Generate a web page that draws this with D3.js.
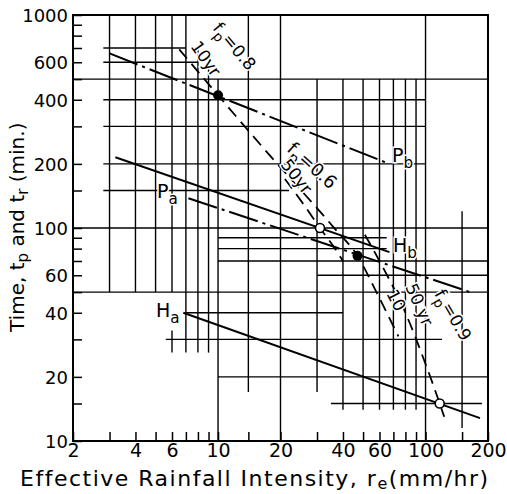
<!DOCTYPE html>
<html><head><meta charset="utf-8">
<script src="https://cdn.jsdelivr.net/npm/d3@7"></script>
<style>
body{margin:0;background:#fff}
svg{display:block}
text{font-family:"DejaVu Sans",sans-serif;fill:#000}
</style>
</head><body>
<svg id="c" width="507" height="494"></svg>
<script>
// ---- data ----
const xTickLabels=[2,4,6,10,20,40,60,100,200];
const yTickLabels=[10,20,40,60,100,200,400,600,1000];
const xMinorTicks=[3,5,7,8,9,14,30,50,70,80,90,150];
const yMinorTicks=[15,30,50,70,80,90,150,300,500,700,800,900];
// vertical grid segments: [x, yFrom, yTo]
const vGrid=[[3,50,1000],[4,50,1000],[5,50,1000],[6,50,1000],[7,50,1000],[8,50,700],[9,50,600],
 [6,26,33],[7,26,50],[8,26,50],[9,26,50],
 [10,10,500],[14,17,1000],[20,10,1000],[30,17,500],[40,14,500],[50,14,500],[60,14,500],
 [70,14,500],[80,14,500],[90,14,500],[100,10,1000],[150,11.5,120]];
// horizontal grid segments: [y, xFrom, xTo]
const hGrid=[[700,2.8,7],[600,2.8,8],[500,2,200],[400,2.8,100],[300,2.8,100],[200,2.8,100],
 [150,2.8,22],[100,2,200],[90,10,65],[80,10,65],[70,10,200],[60,30,200],[50,2,200],
 [40,7,40],[30,5.6,120],[20,10,200],[15,35,187]];
// relationship lines
const Pb=[[3,660],[67,200]];
const Hb=[[3.2,215],[67,77]];
const Pa=[[7.2,138],[164,50]];
const Ha=[[6.8,40],[183,12.8]];
// dashed design-storm lines
const storm10=[[6.5,690],[10,420],[16.5,238],[36.6,99],[47,74],[58,50],[74,31]];
const storm50a=[[21,170],[26,128],[31,100],[36,82],[40,70]];
const storm50b=[[51,93],[60,70],[80,40],[100,23],[117,15],[123,13]];
// solution points
const filledPts=[[10,420],[47,74]];
const openPts=[[31,100],[117,15]];

const svg=d3.select("#c");
const x=d3.scaleLog().domain([2,200]).range([73,488]);
const y=d3.scaleLog().domain([10,1000]).range([441,15]);

const g=svg.append("g");
g.selectAll(".vg").data(vGrid).join("line")
 .attr("x1",d=>x(d[0])).attr("x2",d=>x(d[0])).attr("y1",d=>y(d[1])).attr("y2",d=>y(d[2]))
 .attr("stroke","#000").attr("stroke-width",1.4);
g.selectAll(".hg").data(hGrid).join("line")
 .attr("y1",d=>y(d[0])).attr("y2",d=>y(d[0])).attr("x1",d=>x(d[1])).attr("x2",d=>x(d[2]))
 .attr("stroke","#000").attr("stroke-width",1.4);

const ax=d3.axisBottom(x).tickValues(xTickLabels.concat(xMinorTicks)).tickSize(-9)
  .tickFormat(d=>xTickLabels.includes(d)?d:"");
const axG=svg.append("g").attr("transform",`translate(0,${y(10)})`).call(ax);
const ay=d3.axisLeft(y).tickValues(yTickLabels.concat(yMinorTicks)).tickSize(-9)
  .tickFormat(d=>yTickLabels.includes(d)?d:"");
const ayG=svg.append("g").attr("transform",`translate(${x(2)},0)`).call(ay);
[axG,ayG].forEach(a=>{
  a.select(".domain").remove();
  a.selectAll("line").attr("stroke","#000").attr("stroke-width",1.5);
  a.selectAll("text").style("font-family","DejaVu Sans").attr("fill","#000");
});
axG.selectAll("text").attr("font-size",19).attr("dy","0.55em").attr("y",6);
ayG.selectAll("text").attr("font-size",18).attr("x",-5).attr("dy","0.36em");
svg.append("rect").attr("x",x(2)).attr("y",y(1000)).attr("width",x(200)-x(2)).attr("height",y(10)-y(1000))
 .attr("fill","none").attr("stroke","#000").attr("stroke-width",2);

const line=d3.line().x(d=>x(d[0])).y(d=>y(d[1]));
const dashDot="30,5,3,5";
[Pb,Pa].forEach(s=>svg.append("path").datum(s).attr("d",line).attr("fill","none").attr("stroke","#000").attr("stroke-width",2).attr("stroke-dasharray",dashDot));
[Hb,Ha].forEach(s=>svg.append("path").datum(s).attr("d",line).attr("fill","none").attr("stroke","#000").attr("stroke-width",2));
const curve=d3.line().x(d=>x(d[0])).y(d=>y(d[1])).curve(d3.curveMonotoneX);
[storm10,storm50a,storm50b].forEach(s=>{
 svg.append("path").datum(s).attr("d",curve).attr("fill","none").attr("stroke","#000").attr("stroke-width",1.8).attr("stroke-dasharray","12,7");
});
svg.selectAll(".fp").data(filledPts).join("circle").attr("cx",d=>x(d[0])).attr("cy",d=>y(d[1])).attr("r",5).attr("fill","#000");
svg.selectAll(".op").data(openPts).join("circle").attr("cx",d=>x(d[0])).attr("cy",d=>y(d[1])).attr("r",4.5).attr("fill","#fff").attr("stroke","#000").attr("stroke-width",1.6);

function lab(px,py,main,sub,rest,size,rot,anchor){
  const t=svg.append("text").attr("font-size",size).attr("text-anchor",anchor||"start")
   .attr("transform",`translate(${px},${py}) rotate(${rot||0})`)
   .attr("stroke","#fff").attr("stroke-width",3).attr("paint-order","stroke");
  t.append("tspan").text(main);
  if(sub){t.append("tspan").text(sub).attr("font-size",size*0.8).attr("dy",size*0.3);}
  if(rest){t.append("tspan").text(rest).attr("dy",sub?-size*0.3:0);}
  return t;
}
lab(392,162,"P","b","",19);
lab(157,198,"P","a","",19);
lab(393,252,"H","b","",19);
lab(156,317,"H","a","",19);
lab(230,50,"f","p","=0.8",17,50,"middle");
lab(201,62,"10yr","","",17,55,"middle");
lab(308,170,"f","p","=0.6",18,42,"middle");
lab(292,180,"50yr","","",17,52,"middle");
lab(391,303,"10","","",17,62,"middle");
lab(414,307,"50 yr","","",17,66,"middle");
lab(448,318,"f","p","=0.9",17,60,"middle");

const xt=svg.append("text").attr("x",20).attr("y",486).attr("font-size",22).attr("letter-spacing",1.5);
xt.append("tspan").text("Effective Rainfall Intensity, r");
xt.append("tspan").text("e").attr("font-size",16).attr("dy",3);
xt.append("tspan").text("(mm/hr)").attr("dy",-3);
const yt=svg.append("text").attr("transform","translate(24,332) rotate(-90)").attr("font-size",20);
yt.append("tspan").text("Time, t");
yt.append("tspan").text("p").attr("font-size",15).attr("dy",4);
yt.append("tspan").text(" and t").attr("dy",-4);
yt.append("tspan").text("r").attr("font-size",15).attr("dy",4);
yt.append("tspan").text(" (min.)").attr("dy",-4);
</script>
</body></html>
